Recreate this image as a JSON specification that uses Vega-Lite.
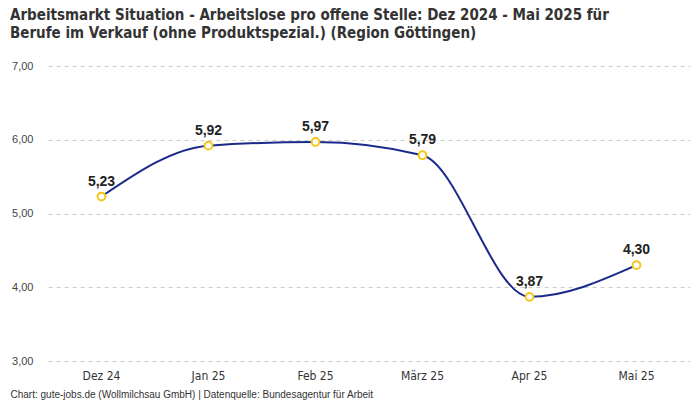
{
  "$schema": "https://vega.github.io/schema/vega-lite/v6.json",
  "width": 642,
  "height": 295,
  "autosize": {"type": "none"},
  "padding": {"left": 48, "top": 66, "right": 10, "bottom": 39},
  "background": "white",
  "config": {
    "view": {"stroke": null},
    "locale": {"number": {"decimal": ",", "thousands": ".", "grouping": [3], "currency": ["", " €"]}}
  },
  "title": {
    "text": ["Arbeitsmarkt Situation - Arbeitslose pro offene Stelle: Dez 2024 - Mai 2025 für", "Berufe im Verkauf (ohne Produktspezial.) (Region Göttingen)"],
    "anchor": "start",
    "frame": "group",
    "dx": -38,
    "offset": 19,
    "font": "Liberation Sans Narrow, DejaVu Sans Condensed, sans-serif",
    "fontSize": 15,
    "fontWeight": "bold",
    "color": "#333333",
    "lineHeight": 18
  },
  "data": {
    "values": [
      {"monat": "Dez 24", "wert": 5.23},
      {"monat": "Jan 25", "wert": 5.92},
      {"monat": "Feb 25", "wert": 5.97},
      {"monat": "März 25", "wert": 5.79},
      {"monat": "Apr 25", "wert": 3.87},
      {"monat": "Mai 25", "wert": 4.30}
    ]
  },
  "encoding": {
    "x": {
      "field": "monat",
      "type": "nominal",
      "sort": null,
      "scale": {"type": "band", "paddingInner": 0, "paddingOuter": 0},
      "axis": {
        "title": "Chart: gute-jobs.de (Wollmilchsau GmbH) | Datenquelle: Bundesagentur für Arbeit",
        "titleAnchor": "start",
        "titleAlign": "left",
        "titleX": -38,
        "titleY": 28,
        "titleFont": "Liberation Sans, sans-serif",
        "titleFontSize": 10,
        "titleFontWeight": "normal",
        "titleColor": "#333333",
        "labelAngle": 0,
        "labelFont": "Liberation Sans Narrow, DejaVu Sans Condensed, sans-serif",
        "labelFontSize": 12,
        "labelColor": "#333333",
        "labelPadding": 9,
        "ticks": false,
        "domain": false,
        "grid": false
      }
    },
    "y": {
      "field": "wert",
      "type": "quantitative",
      "scale": {"domain": [3, 7], "nice": false, "zero": false},
      "axis": {
        "title": null,
        "values": [3, 4, 5, 6, 7],
        "format": ".2f",
        "labelFont": "Liberation Sans, sans-serif",
        "labelFontSize": 11,
        "labelColor": "#444444",
        "labelPadding": 15,
        "ticks": false,
        "domain": false,
        "grid": true,
        "gridColor": "#cccccc",
        "gridDash": [4, 4],
        "gridWidth": 1
      }
    }
  },
  "layer": [
    {
      "mark": {"type": "line", "interpolate": "monotone", "color": "#1a2a8c", "strokeWidth": 2}
    },
    {
      "mark": {"type": "point", "shape": "circle", "filled": true, "fill": "white", "stroke": "#f5c518", "strokeWidth": 2, "size": 60, "opacity": 1}
    },
    {
      "mark": {"type": "text", "dy": -15, "font": "Liberation Sans, sans-serif", "fontSize": 14, "fontWeight": "bold", "color": "#222222"},
      "encoding": {"text": {"field": "wert", "type": "quantitative", "format": ".2f"}}
    }
  ]
}
